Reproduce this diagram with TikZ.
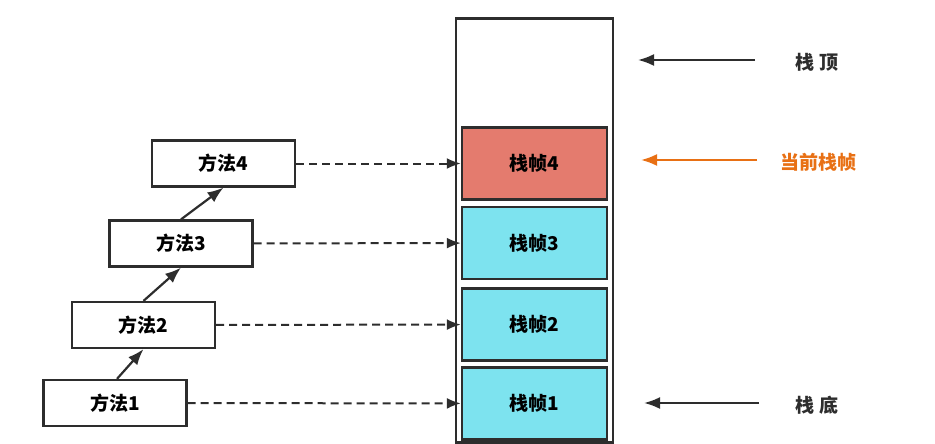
\documentclass[tikz,border=0pt]{standalone}
\usepackage{fontspec}
\setmainfont{Noto Sans CJK SC}
\usepackage{xcolor}
\usetikzlibrary{arrows.meta,positioning}
\definecolor{framered}{RGB}{228,123,110}
\definecolor{framecyan}{RGB}{125,227,239}
\definecolor{curorange}{RGB}{232,112,20}
\definecolor{edgegray}{RGB}{45,45,45}
\tikzset{
  method/.style={rectangle, draw=edgegray, line width=2.2pt, fill=white, minimum width=143pt, minimum height=46pt, inner sep=0pt, font=\fontsize{19}{22}\selectfont\bfseries},
  frame/.style={rectangle, draw=edgegray, line width=2.4pt, fill=framecyan, minimum width=145pt, minimum height=72pt, inner sep=0pt, font=\fontsize{19}{22}\selectfont\bfseries},
  curframe/.style={frame, fill=framered},
  stackbox/.style={rectangle, draw=edgegray, line width=2.2pt, minimum width=157pt, minimum height=424pt, inner sep=0pt},
  callarrow/.style={-{Latex[length=16pt,width=12pt]}, line width=2.2pt, edgegray},
  linkarrow/.style={-{Latex[length=14pt,width=11pt]}, line width=2pt, edgegray, dash pattern=on 8pt off 5pt},
  ptrarrow/.style={-{Latex[length=16pt,width=12pt]}, line width=2.2pt, edgegray},
  ptrlabel/.style={font=\fontsize{19}{22}\selectfont\bfseries, text=edgegray}
}

\begin{document}
\begin{tikzpicture}[x=1pt,y=-1pt]
  \useasboundingbox (0,0) rectangle (935,444);

  % the stack
  \node[stackbox] (stack) at (534.5,230.5) {};
  \node[frame] (f1) at (534.5,403.5) {栈帧1};
  \node[frame] (f2) at (534.5,324.5) {栈帧2};
  \node[frame] (f3) at (534.5,243) {栈帧3};
  \node[curframe] (f4) at (534.5,163.5) {栈帧4};

  % the calls
  \node[method] (m1) at (115,403) {方法1};
  \node[method] (m2) at (143.5,325) {方法2};
  \node[method] (m3) at (181,243.5) {方法3};
  \node[method] (m4) at (223.5,163.5) {方法4};
  \draw[callarrow] (m1.north) ++(2,0) -- (m2.south);
  \draw[callarrow] (m2.north) -- (m3.south);
  \draw[callarrow] (m3.north) -- (m4.south);

  \draw[linkarrow] (m1) -- (f1);
  \draw[linkarrow] (m2) -- (f2);
  \draw[linkarrow] (m3) -- (f3);
  \draw[linkarrow] (m4) -- (f4);

  % pointers on the right
  \node[ptrlabel] (top) at (817,62) {栈 顶};
  \node[ptrlabel, text=curorange] (cur) at (818,162) {当前栈帧};
  \node[ptrlabel] (bottom) at (817,405) {栈 底};
  \coordinate (topstart) at (755,60);
  \coordinate (topend) at (638,60);
  \coordinate (curstart) at (757,160);
  \coordinate (curend) at (641,160);
  \coordinate (bottomstart) at (759,403);
  \coordinate (bottomend) at (644,403);
  \draw[ptrarrow] (topstart) -- (topend);
  \draw[ptrarrow, curorange] (curstart) -- (curend);
  \draw[ptrarrow] (bottomstart) -- (bottomend);
\end{tikzpicture}
\end{document}
